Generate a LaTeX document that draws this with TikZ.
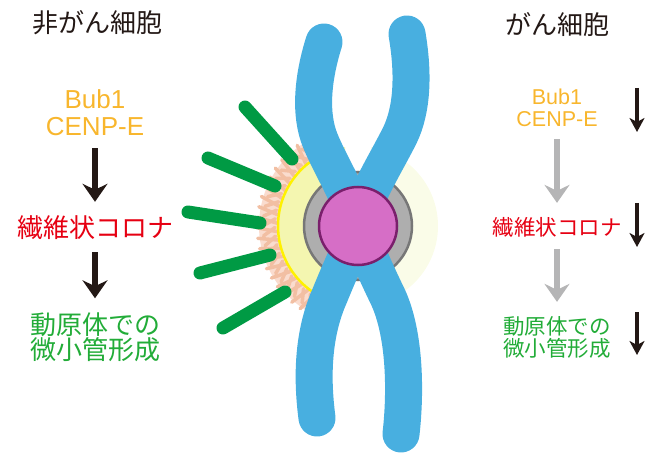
\documentclass[tikz,border=0pt]{standalone}
\usepackage{fontspec}
\setmainfont{Noto Sans CJK JP}
\newfontfamily\latinfont{Liberation Sans}
\usepackage{xcolor}
\usepackage{tikz}
\usetikzlibrary{arrows.meta}

\definecolor{chromblue}{HTML}{48AFE0}
\definecolor{kinpink}{HTML}{D66EC6}
\definecolor{kinedge}{HTML}{7A1F6C}
\definecolor{ringgray}{HTML}{AEAEAE}
\definecolor{ringedge}{HTML}{777777}
\definecolor{halopale}{HTML}{FAFCE8}
\definecolor{haloyel}{HTML}{F4F6B0}
\definecolor{haloline}{HTML}{FFF100}
\definecolor{coronalight}{HTML}{FADCCE}
\definecolor{coronaspike}{HTML}{F2BFA3}
\definecolor{mtgreen}{HTML}{009A44}
\definecolor{txtdark}{HTML}{231815}
\definecolor{txtorange}{HTML}{F8B62D}
\definecolor{txtred}{HTML}{E60012}
\definecolor{txtgreen}{HTML}{22AC38}
\definecolor{arrgray}{HTML}{B5B5B6}

\begin{document}
\begin{tikzpicture}[x=1pt, y=-1pt,
    every node/.style={inner sep=0pt, align=center},
    title/.style={text=txtdark, font=\fontsize{26}{28}\selectfont},
    bigtxt/.style={font=\fontsize{26}{27}\selectfont},
    smalltxt/.style={font=\fontsize{21.5}{22}\selectfont},
    bigarrow/.style={line width=6pt, shorten <=12pt, shorten >=14pt,
        -{Stealth[length=18pt, width=25pt, inset=6pt]}},
    smallarrow/.style={line width=3.5pt, txtdark,
        -{Stealth[length=14pt, width=15pt, inset=4pt]}},
    chromatid/.style={chromblue, line width=37pt, line cap=round},
    mtube/.style={mtgreen, line width=13pt, line cap=round},
    spike/.style={coronaspike, line width=3.5pt, line cap=round}]
    \useasboundingbox (0,0) rectangle (645,454);

    \coordinate (c) at (358,226);

    \begin{scope}
        \clip (0,0) rectangle (345,454) (371,0) rectangle (645,454);
        \fill[halopale] (c) circle (80pt);
        \begin{scope}[shift={(c)}]
            \clip (0,0) -- (90:200) -- (180:200) -- (270:200) -- cycle;
            \fill[haloyel] (0,0) circle (80pt);
        \end{scope}
    \end{scope}
    \begin{scope}[shift={(c)}]
        \clip (0,0) -- (113:200) -- (180:200) -- (247:200) -- cycle;
        \fill[coronalight, even odd rule] (0,0) circle (99pt) (0,0) circle (80pt);
    \end{scope}
    \begin{scope}[shift={(c)}]
        \foreach \a in {116,122,...,244}
            \draw[spike] (\a:81) -- (\a+3:101);
        \foreach \a in {119,125,...,241}
            \draw[spike] (\a:83) -- (\a-5:95);
        \clip (0,0) -- (125:200) -- (180:200) -- (235:200) -- cycle;
        \draw[haloline, line width=2.5pt] (0,0) circle (80pt);
    \end{scope}

    \filldraw[fill=ringgray, draw=ringedge, line width=2.5pt] (c) circle (54pt);

    \draw[chromatid] (324,42) .. controls (312,80) and (310,115) .. (320,140)
        .. controls (330,165) and (350,195) .. (358,227)
        .. controls (350,250) and (340,270) .. (330,295)
        .. controls (312,335) and (312,380) .. (317,418);
    \draw[chromatid] (407,34) .. controls (414,75) and (412,110) .. (400,135)
        .. controls (385,165) and (365,195) .. (358,227)
        .. controls (366,250) and (375,270) .. (386,293)
        .. controls (405,330) and (406,390) .. (401,434);

    \filldraw[fill=kinpink, draw=kinedge, line width=2.5pt] (c) circle (39pt);

    \foreach \xa/\ya/\xb/\yb in {245/107/292/159, 208/158/275/186,
        188/212/260/223, 200/273/270/255, 223/328/285/292}
        \draw[mtube] (\xa,\ya) -- (\xb,\yb);

    \node[title] (normal) at (97,23) {非がん細胞};
    \node[title] (cancer) at (557,25) {がん細胞};

    \node[bigtxt, text=txtorange, font=\latinfont\fontsize{26}{27}\selectfont]
        (bubL) at (95,113) {Bub1\\CENP-E};
    \node[bigtxt, text=txtred] (coronaL) at (95,228) {繊維状コロナ};
    \node[bigtxt, text=txtgreen, font=\fontsize{26}{25}\selectfont]
        (mtL) at (95,337) {動原体での\\微小管形成};
    \draw[bigarrow, txtdark] (bubL) -- (coronaL);
    \draw[bigarrow, txtdark] (coronaL) -- (mtL);

    \node[smalltxt, text=txtorange, font=\latinfont\fontsize{21.5}{22}\selectfont]
        (bubR) at (557,108) {Bub1\\CENP-E};
    \node[smalltxt, text=txtred] (coronaR) at (557,227) {繊維状コロナ};
    \node[smalltxt, text=txtgreen] (mtR) at (557,337) {動原体での\\微小管形成};
    \draw[bigarrow, arrgray] (bubR) -- (coronaR);
    \draw[bigarrow, arrgray] (coronaR) -- (mtR);

    \coordinate (d1a) at (637,88);
    \coordinate (d1b) at (637,132);
    \coordinate (d2a) at (637,203);
    \coordinate (d2b) at (637,247);
    \coordinate (d3a) at (637,312);
    \coordinate (d3b) at (637,355);
    \draw[smallarrow] (d1a) -- (d1b);
    \draw[smallarrow] (d2a) -- (d2b);
    \draw[smallarrow] (d3a) -- (d3b);
\end{tikzpicture}
\end{document}
